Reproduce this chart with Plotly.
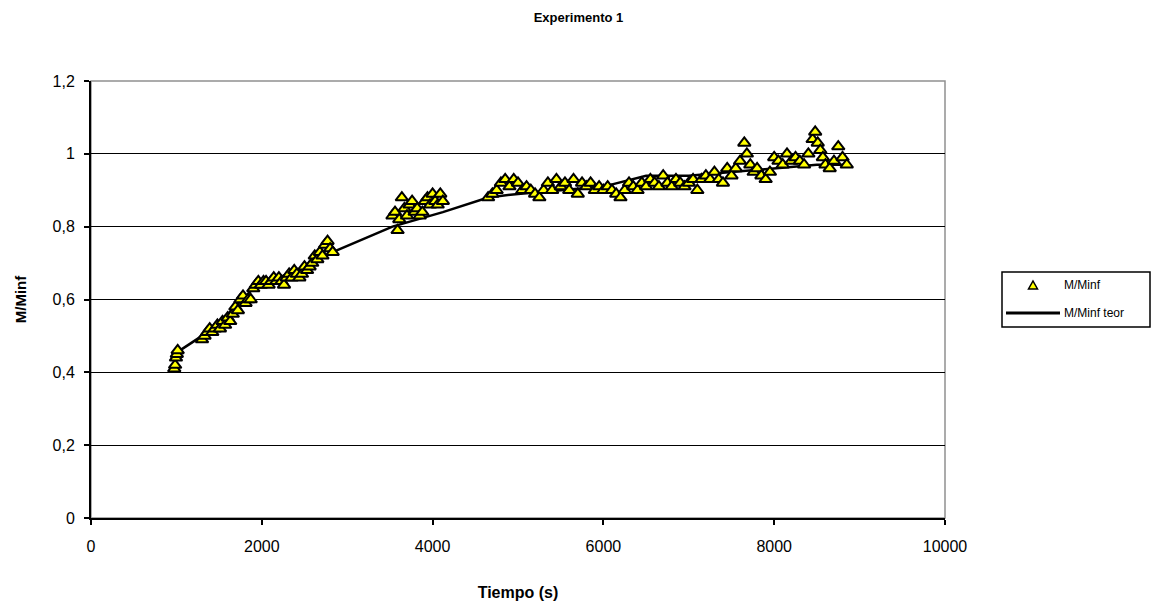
import plotly.graph_objects as go

# Measured M/Minf over time (s)
tiempo = [
    975, 985, 995, 1005, 1015,
    1300, 1330, 1360, 1390, 1420, 1450, 1480, 1510, 1540, 1570, 1600, 1630, 1660,
    1690, 1720, 1750, 1780, 1810, 1840, 1870,
    1900, 1930, 1960, 1990, 2020, 2050, 2080, 2110, 2140, 2170, 2200, 2230, 2260,
    2290, 2320, 2350, 2380, 2410, 2440, 2470, 2500, 2530, 2560, 2590, 2620, 2650,
    2680, 2710, 2740, 2770, 2800, 2830,
    3530, 3560, 3590, 3610, 3640, 3670, 3700, 3730, 3760, 3790, 3820, 3850, 3880,
    3910, 3940, 3970, 4000, 4030, 4060, 4090, 4120,
    4650, 4700, 4750, 4800, 4850, 4900, 4950, 5000, 5050, 5100, 5150, 5200, 5250,
    5300, 5350, 5400, 5450, 5500, 5550, 5600, 5650, 5700, 5750, 5800, 5850, 5900,
    5950, 6000, 6050, 6100, 6150, 6200, 6250, 6300, 6350, 6400, 6450, 6500, 6550,
    6600, 6650, 6700, 6750, 6800, 6850, 6900, 6950, 7000, 7050, 7100, 7150, 7200,
    7250, 7300, 7350, 7400, 7450, 7500,
    7550, 7600, 7650, 7680, 7720, 7760, 7800, 7850, 7900, 7950, 8000, 8050, 8100,
    8150, 8200, 8250, 8300, 8350, 8400, 8450, 8480, 8510, 8540, 8570, 8600, 8650,
    8700, 8750, 8800, 8850,
]
m_minf = [
    0.41, 0.42, 0.44, 0.45, 0.46,
    0.49, 0.50, 0.51, 0.52, 0.51, 0.52, 0.53, 0.52, 0.54, 0.53, 0.55, 0.54, 0.56,
    0.58, 0.57, 0.60, 0.61, 0.59, 0.60, 0.60,
    0.63, 0.64, 0.65, 0.64, 0.65, 0.65, 0.64, 0.65, 0.66, 0.65, 0.66, 0.65, 0.64,
    0.66, 0.67, 0.66, 0.68, 0.67, 0.66, 0.67, 0.69, 0.68, 0.69, 0.70, 0.72, 0.71,
    0.73, 0.72, 0.75, 0.76, 0.74, 0.73,
    0.83, 0.84, 0.79, 0.82, 0.88, 0.85, 0.83, 0.86, 0.87, 0.84, 0.85, 0.83, 0.84,
    0.87, 0.88, 0.86, 0.89, 0.87, 0.86, 0.89, 0.87,
    0.88, 0.89, 0.90, 0.92, 0.93, 0.91, 0.93, 0.92, 0.90, 0.91, 0.90, 0.89, 0.88,
    0.90, 0.92, 0.90, 0.93, 0.91, 0.92, 0.90, 0.93, 0.89, 0.92, 0.91, 0.92, 0.90,
    0.91, 0.90, 0.91, 0.90, 0.89, 0.88, 0.90, 0.92, 0.91, 0.90, 0.92, 0.91, 0.93,
    0.92, 0.91, 0.94, 0.92, 0.91, 0.93, 0.92, 0.91, 0.92, 0.93, 0.90, 0.93, 0.94,
    0.93, 0.95, 0.93, 0.92, 0.96, 0.94,
    0.96, 0.98, 1.03, 1.00, 0.97, 0.95, 0.96, 0.94, 0.93, 0.95, 0.99, 0.98, 0.97,
    1.00, 0.98, 0.99, 0.98, 0.97, 1.00, 1.04, 1.06, 1.03, 1.01, 0.99, 0.97, 0.96,
    0.98, 1.02, 0.99, 0.97,
]

# Theoretical curve
tiempo_teor = [975, 1300, 1600, 1900, 2200, 2500, 2830, 3530, 4120, 4650, 5000,
               5500, 6000, 6500, 7000, 7500, 8000, 8500, 8850]
m_minf_teor = [0.45, 0.50, 0.56, 0.63, 0.66, 0.69, 0.73, 0.80, 0.84, 0.88, 0.89,
               0.90, 0.91, 0.94, 0.94, 0.95, 0.96, 0.97, 0.97]

x_ticks = [0, 2000, 4000, 6000, 8000, 10000]
x_tick_text = ["0", "2000", "4000", "6000", "8000", "10000"]
y_ticks = [0, 0.2, 0.4, 0.6, 0.8, 1.0, 1.2]
y_tick_text = ["0", "0,2", "0,4", "0,6", "0,8", "1", "1,2"]

series_names = ["M/Minf", "M/Minf teor"]

FONT = "Liberation Sans, Arial, sans-serif"

# Plot area in pixels (used to place the key box beside it)
PL, PR, PT, PB = 91, 945, 81, 518


def px_x(px):
    return (px - PL) / (PR - PL)


def px_y(py):
    return (PB - py) / (PB - PT)


fig = go.Figure()

fig.add_trace(go.Scatter(
    x=tiempo_teor, y=m_minf_teor, mode="lines", name=series_names[1],
    line=dict(color="black", width=2.5), showlegend=False,
))
fig.add_trace(go.Scatter(
    x=tiempo, y=m_minf, mode="markers", name=series_names[0],
    marker=dict(symbol="triangle-up", size=11, color="#FFFF00",
                line=dict(color="black", width=2)),
    showlegend=False,
))

# Plot-area frame (grey top/right edges)
fig.add_shape(type="rect", xref="paper", yref="paper", x0=0, y0=0, x1=1, y1=1,
              line=dict(color="#909090", width=1.5), layer="below")

# Key box to the right of the plot
fig.add_shape(type="rect", xref="paper", yref="paper",
              x0=px_x(1002), x1=px_x(1150), y0=px_y(327), y1=px_y(272),
              line=dict(color="black", width=1.5), fillcolor="white")
tri = "M {:.5f} {:.5f} L {:.5f} {:.5f} L {:.5f} {:.5f} Z".format(
    px_x(1028.5), px_y(289), px_x(1037.5), px_y(289), px_x(1033), px_y(281))
fig.add_shape(type="path", xref="paper", yref="paper", path=tri,
              line=dict(color="black", width=1.5), fillcolor="#FFFF00")
fig.add_shape(type="line", xref="paper", yref="paper",
              x0=px_x(1006), x1=px_x(1060), y0=px_y(313), y1=px_y(313),
              line=dict(color="black", width=3))
for name, py in zip(series_names, [285, 313]):
    fig.add_annotation(text=name, xref="paper", yref="paper", x=px_x(1062), y=px_y(py),
                       xanchor="left", yanchor="middle", showarrow=False,
                       font=dict(family=FONT, size=12, color="black"))

fig.update_layout(
    width=1157, height=610,
    margin=dict(l=PL, r=1157 - PR, t=PT, b=610 - PB),
    paper_bgcolor="white", plot_bgcolor="white",
    font=dict(family=FONT, size=16, color="black"),
    title=dict(text="<b>Experimento 1</b>", x=0.5, xanchor="center",
               y=1 - 17 / 610, yanchor="middle",
               font=dict(family=FONT, size=13, color="black")),
    showlegend=False,
    xaxis=dict(range=[0, 10000], tickvals=x_ticks, ticktext=x_tick_text,
               showgrid=False, zeroline=False, showline=True, linecolor="black",
               linewidth=2, ticks="outside", ticklen=5, tickcolor="black", tickwidth=1.5,
               ticklabelstandoff=8,
               tickfont=dict(family=FONT, size=16),
               title=dict(text="<b>Tiempo (s)</b>", standoff=33,
                          font=dict(family=FONT, size=16))),
    yaxis=dict(range=[0, 1.2], tickvals=y_ticks, ticktext=y_tick_text,
               showgrid=True, gridcolor="black", gridwidth=1, zeroline=False,
               showline=True, linecolor="black", linewidth=2, ticks="outside",
               ticklen=5, tickcolor="black", tickwidth=1.5,
               ticklabelstandoff=6,
               tickfont=dict(family=FONT, size=16),
               title=dict(text="<b>M/Minf</b>", standoff=22,
                          font=dict(family=FONT, size=15))),
)

fig.write_html("out.html")
